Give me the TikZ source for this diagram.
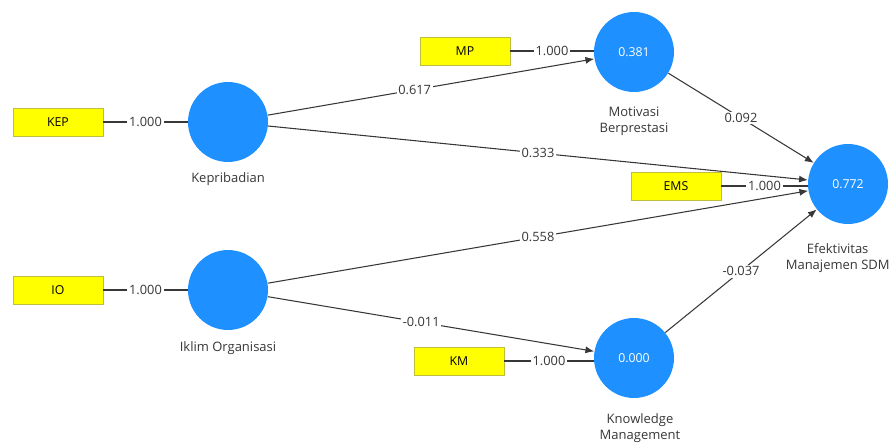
\documentclass[tikz,border=0pt]{standalone}
\usepackage{fontspec}
\setmainfont{Open Sans}
\usetikzlibrary{arrows.meta}

\definecolor{lvblue}{RGB}{30,144,255}
\definecolor{mvyellow}{RGB}{255,255,0}
\definecolor{mvborder}{RGB}{190,190,60}
\definecolor{edgegray}{RGB}{55,55,55}

\tikzset{
  latent/.style={circle, fill=lvblue, minimum size=1.6cm, inner sep=0pt,
    text=white, font=\fontsize{7}{8}\selectfont},
  indicator/.style={rectangle, draw=mvborder, fill=mvyellow, line width=0.4pt,
    minimum width=1.8cm, minimum height=0.56cm, inner sep=0pt,
    font=\fontsize{7}{8}\selectfont},
  coef/.style={fill=white, inner sep=1pt, text=edgegray,
    font=\fontsize{7.3}{8}\selectfont},
  caption/.style={align=center, text=edgegray,
    font=\fontsize{7.4}{9.2}\selectfont},
  link/.style={draw=edgegray, line width=0.6pt},
  path/.style={link, -{Latex[length=5pt,width=4pt]}},
}

\begin{document}
\begin{tikzpicture}[x=0.02cm, y=-0.02cm]
      \useasboundingbox (0,0) rectangle (894,443);

      % Latent variables
      \node[latent] (kep) at (228,122) {};
      \node[latent] (io) at (228,290) {};
      \node[latent] (mot) at (634,52) {0.381};
      \node[latent] (km) at (634,358) {0.000};
      \node[latent] (ems) at (848,184) {0.772};

      % Names under the circles
      \node[caption] (kepname) at (228,179) {Kepribadian};
      \node[caption] (ioname) at (228,348) {Iklim Organisasi};
      \node[caption] (motname) at (634,121) {Motivasi\\Berprestasi};
      \node[caption] (kmname) at (640,428) {Knowledge\\Management};
      \node[caption, anchor=east, inner sep=0pt] (emsname) at (890,258) {Efektivitas\\Manajemen SDM};

      % Indicators
      \node[indicator] (kepbox) at (58,122) {KEP};
      \node[indicator] (iobox) at (58,290) {IO};
      \node[indicator] (motbox) at (465,51) {MP};
      \node[indicator] (kmbox) at (459,361) {KM};
      \node[indicator] (emsbox) at (676,186) {EMS};

      % Outer loadings
      \draw[link] (kepbox) -- node[coef] {1.000} (kep);
      \draw[link] (iobox) -- node[coef] {1.000} (io);
      \draw[link] (motbox) -- node[coef] {1.000} (mot.west |- motbox);
      \draw[link] (kmbox) -- node[coef] {1.000} (km.west |- kmbox);
      \draw[link] (emsbox) -- node[coef] {1.000} (ems.west |- emsbox);

      % Path coefficients
      \draw[path] (kep) -- node[coef, pos=0.45] {0.617} (mot);
      \draw[path] (kep) -- node[coef] {0.333} (ems);
      \draw[path] (io) -- node[coef] {0.558} (ems);
      \draw[path] (io) -- node[coef, pos=0.47] {-0.011} (km);
      \draw[path] (mot) -- node[coef] {0.092} (ems);
      \draw[path] (km) -- node[coef] {-0.037} (ems);
    \end{tikzpicture}
\end{document}
